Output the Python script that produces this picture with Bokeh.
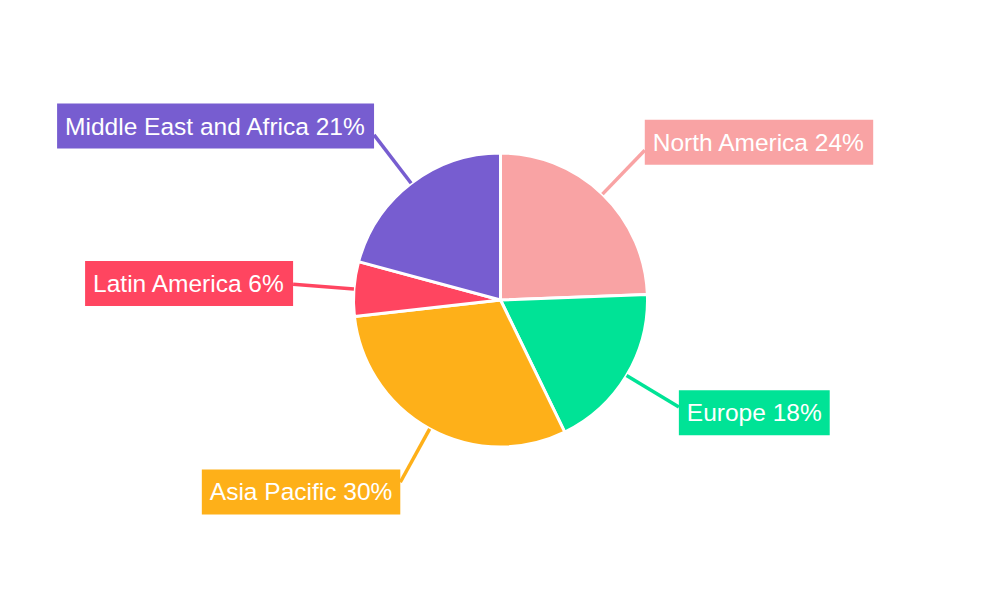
import math
from bokeh.plotting import figure
from bokeh.models import Range1d, Label
from bokeh.embed import file_html
from bokeh.resources import INLINE

regions = ["North America", "Europe", "Asia Pacific", "Latin America", "Middle East and Africa"]
shares = [24.4, 18.4, 30.4, 6.0, 20.8]
colors = ["#F9A3A4", "#00E396", "#FEB019", "#FF4560", "#775DD0"]

W, H = 984, 584
p = figure(width=W, height=H, output_backend="svg", toolbar_location=None,
           x_range=Range1d(0, W), y_range=Range1d(600 - H, 600),
           min_border=0)
p.axis.visible = False
p.grid.visible = False
p.outline_line_color = None
p.background_fill_color = "white"

cx, cy, r = 500, 300.5, 147
r_line = 208
total = sum(shares)

starts, ends = [], []
cum = 0.0
mids = []
for s in shares:
    a0 = math.pi / 2 - 2 * math.pi * cum / total
    cum += s
    a1 = math.pi / 2 - 2 * math.pi * cum / total
    starts.append(a1)
    ends.append(a0)
    mids.append((a0 + a1) / 2)

p.wedge(x=cx, y=cy, radius=r, start_angle=starts, end_angle=ends,
        direction="anticlock", fill_color=colors, line_color="white", line_width=3)

x0s, y0s, x1s, y1s = [], [], [], []
for m in mids:
    x0s.append(cx + r * math.cos(m)); y0s.append(cy + r * math.sin(m))
    x1s.append(cx + r_line * math.cos(m)); y1s.append(cy + r_line * math.sin(m))
p.segment(x0=x0s, y0=y0s, x1=x1s, y1=y1s, line_color=colors, line_width=3.5)

for name, s, c, m, ex, ey in zip(regions, shares, colors, mids, x1s, y1s):
    right = math.cos(m) >= 0
    lab = Label(x=ex, y=ey + 11 * math.sin(m),
                text=f"{name} {round(s)}%",
                text_align="left" if right else "right",
                text_baseline="middle",
                text_color="white", text_font="Liberation Sans",
                text_font_size="24.5px",
                background_fill_color=c, background_fill_alpha=1.0,
                padding=dict(left=8, right=8, top=9, bottom=9))
    p.add_layout(lab)

open("out.html", "w").write(file_html(p, INLINE))
